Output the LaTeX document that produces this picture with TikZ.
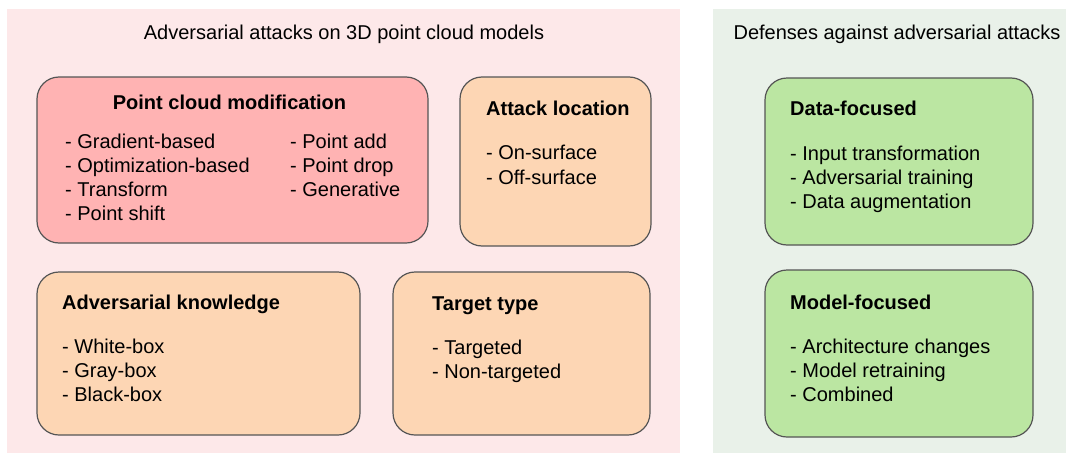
\documentclass[tikz,border=0pt]{standalone}
\usepackage{fontspec}
\setmainfont{Liberation Sans}
\definecolor{bgpink}{HTML}{FDE8E9}
\definecolor{bggreen}{HTML}{E9F1E9}
\definecolor{pcmfill}{HTML}{FFB3B3}
\definecolor{orfill}{HTML}{FDD6B4}
\definecolor{grfill}{HTML}{BBE6A2}
\definecolor{edge}{HTML}{555555}
\begin{document}
\begin{tikzpicture}[x=1pt,y=-1pt,
  box/.style={draw=edge, line width=1.2pt, rounded corners=22pt, inner sep=0pt},
  txt/.style={anchor=base west, inner sep=0pt, font=\fontsize{20}{24}\selectfont},
  ttl/.style={anchor=base west, inner sep=0pt, font=\fontsize{20}{24}\selectfont\bfseries},
  head/.style={anchor=base, inner sep=0pt, font=\fontsize{20}{24}\selectfont}]
\useasboundingbox (0,0) rectangle (1070,455);
\fill[bgpink] (7,9) rectangle (680,453);
\fill[bggreen] (713,9) rectangle (1066,453);
\node[head] (h1) at (344,39) {Adversarial attacks on 3D point cloud models};
\node[head] (h2) at (897,39) {Defenses against adversarial attacks};
% boxes
\node[box, fill=pcmfill, minimum width=391pt, minimum height=166pt] (pcm) at (232.5,160) {};
\node[box, fill=orfill, minimum width=191pt, minimum height=169pt] (loc) at (555.5,161.5) {};
\node[box, fill=orfill, minimum width=323pt, minimum height=163pt] (know) at (198.5,353.5) {};
\node[box, fill=orfill, minimum width=257pt, minimum height=163pt] (tgt) at (521.5,353.5) {};
\node[box, fill=grfill, minimum width=268pt, minimum height=167pt] (data) at (899,161.5) {};
\node[box, fill=grfill, minimum width=268pt, minimum height=167pt] (model) at (899,353.5) {};
% point cloud modification
\node[ttl, anchor=base] (pcmt) at (229.5,109) {Point cloud modification};
\node[txt] (p1) at (65,148) {- Gradient-based};
\node[txt] (p2) at (65,172) {- Optimization-based};
\node[txt] (p3) at (65,196) {- Transform};
\node[txt] (p4) at (65,220) {- Point shift};
\node[txt] (p5) at (290,148) {- Point add};
\node[txt] (p6) at (290,172) {- Point drop};
\node[txt] (p7) at (290,196) {- Generative};
% attack location
\node[ttl] (loct) at (486,115) {Attack location};
\node[txt] (l1) at (486,159) {- On-surface};
\node[txt] (l2) at (486,184) {- Off-surface};
% adversarial knowledge
\node[ttl] (knowt) at (62,309) {Adversarial knowledge};
\node[txt] (k1) at (62,353) {- White-box};
\node[txt] (k2) at (62,377) {- Gray-box};
\node[txt] (k3) at (62,401) {- Black-box};
% target type
\node[ttl] (tgtt) at (432,310) {Target type};
\node[txt] (t1) at (432,354) {- Targeted};
\node[txt] (t2) at (432,378) {- Non-targeted};
% data-focused
\node[ttl] (datat) at (790,115) {Data-focused};
\node[txt] (d1) at (790,160) {- Input transformation};
\node[txt] (d2) at (790,184) {- Adversarial training};
\node[txt] (d3) at (790,208) {- Data augmentation};
% model-focused
\node[ttl] (modelt) at (790,309) {Model-focused};
\node[txt] (m1) at (790,353) {- Architecture changes};
\node[txt] (m2) at (790,377) {- Model retraining};
\node[txt] (m3) at (790,401) {- Combined};
\end{tikzpicture}
\end{document}
